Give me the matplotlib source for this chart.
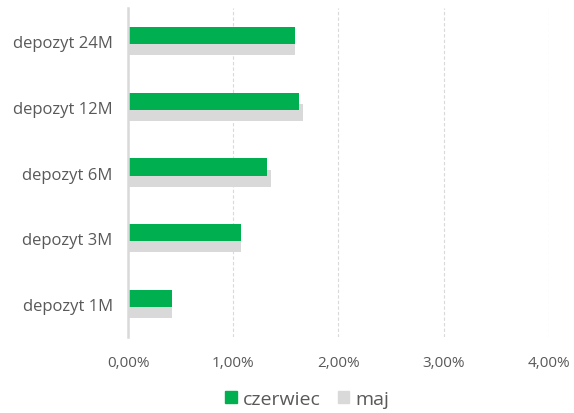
import matplotlib.pyplot as plt
from matplotlib.ticker import FuncFormatter
from matplotlib.patches import Patch

categories = ["depozyt 1M", "depozyt 3M", "depozyt 6M", "depozyt 12M", "depozyt 24M"]
czerwiec = [0.42, 1.07, 1.32, 1.63, 1.59]
maj = [0.42, 1.07, 1.36, 1.66, 1.59]

GREEN = "#00B050"
GREY = "#D9D9D9"
TEXT = "#595959"

plt.rcParams['font.family'] = ['Open Sans', 'DejaVu Sans']

fig = plt.figure(figsize=(5.74, 4.14), dpi=100)
ax = fig.add_axes([0.223, 0.1836, 0.733, 0.7944])

pos = list(range(len(categories)))
h = 0.26
off = 0.084
ax.barh([p - off for p in pos], maj, height=h, color=GREY, zorder=2, label="maj")
ax.barh([p + off for p in pos], czerwiec, height=h, color=GREEN, zorder=3, label="czerwiec")

ax.set_xlim(0, 4.0)
ax.set_ylim(-0.5, len(categories) - 0.5)
ax.set_xticks([0, 1, 2, 3, 4])
ax.xaxis.set_major_formatter(FuncFormatter(lambda v, _: f"{v:.2f}".replace(".", ",") + "%"))
ax.set_yticks(pos)
ax.set_yticklabels(categories)

for s in ["top", "right", "bottom"]:
    ax.spines[s].set_visible(False)
ax.spines["left"].set_color(GREY)
ax.spines["left"].set_linewidth(1.8)
ax.spines["left"].set_zorder(4)

ax.grid(axis="x", color=GREY, linestyle=(0, (3, 2)), linewidth=0.8, zorder=1)
ax.tick_params(axis="both", length=0, colors=TEXT)
ax.tick_params(axis="x", pad=13, labelsize=11)
ax.tick_params(axis="y", pad=11, labelsize=12)

handles = [Patch(color=GREEN, label="czerwiec"), Patch(color=GREY, label="maj")]
leg = fig.legend(handles=handles, loc="lower center", bbox_to_anchor=(0.535, -0.03), ncol=2,
                 frameon=False, fontsize=14, handlelength=0.58, handleheight=0.58,
                 handletextpad=0.3, columnspacing=0.9)
for t in leg.get_texts():
    t.set_color(TEXT)

fig.savefig("out.png", dpi=100)
